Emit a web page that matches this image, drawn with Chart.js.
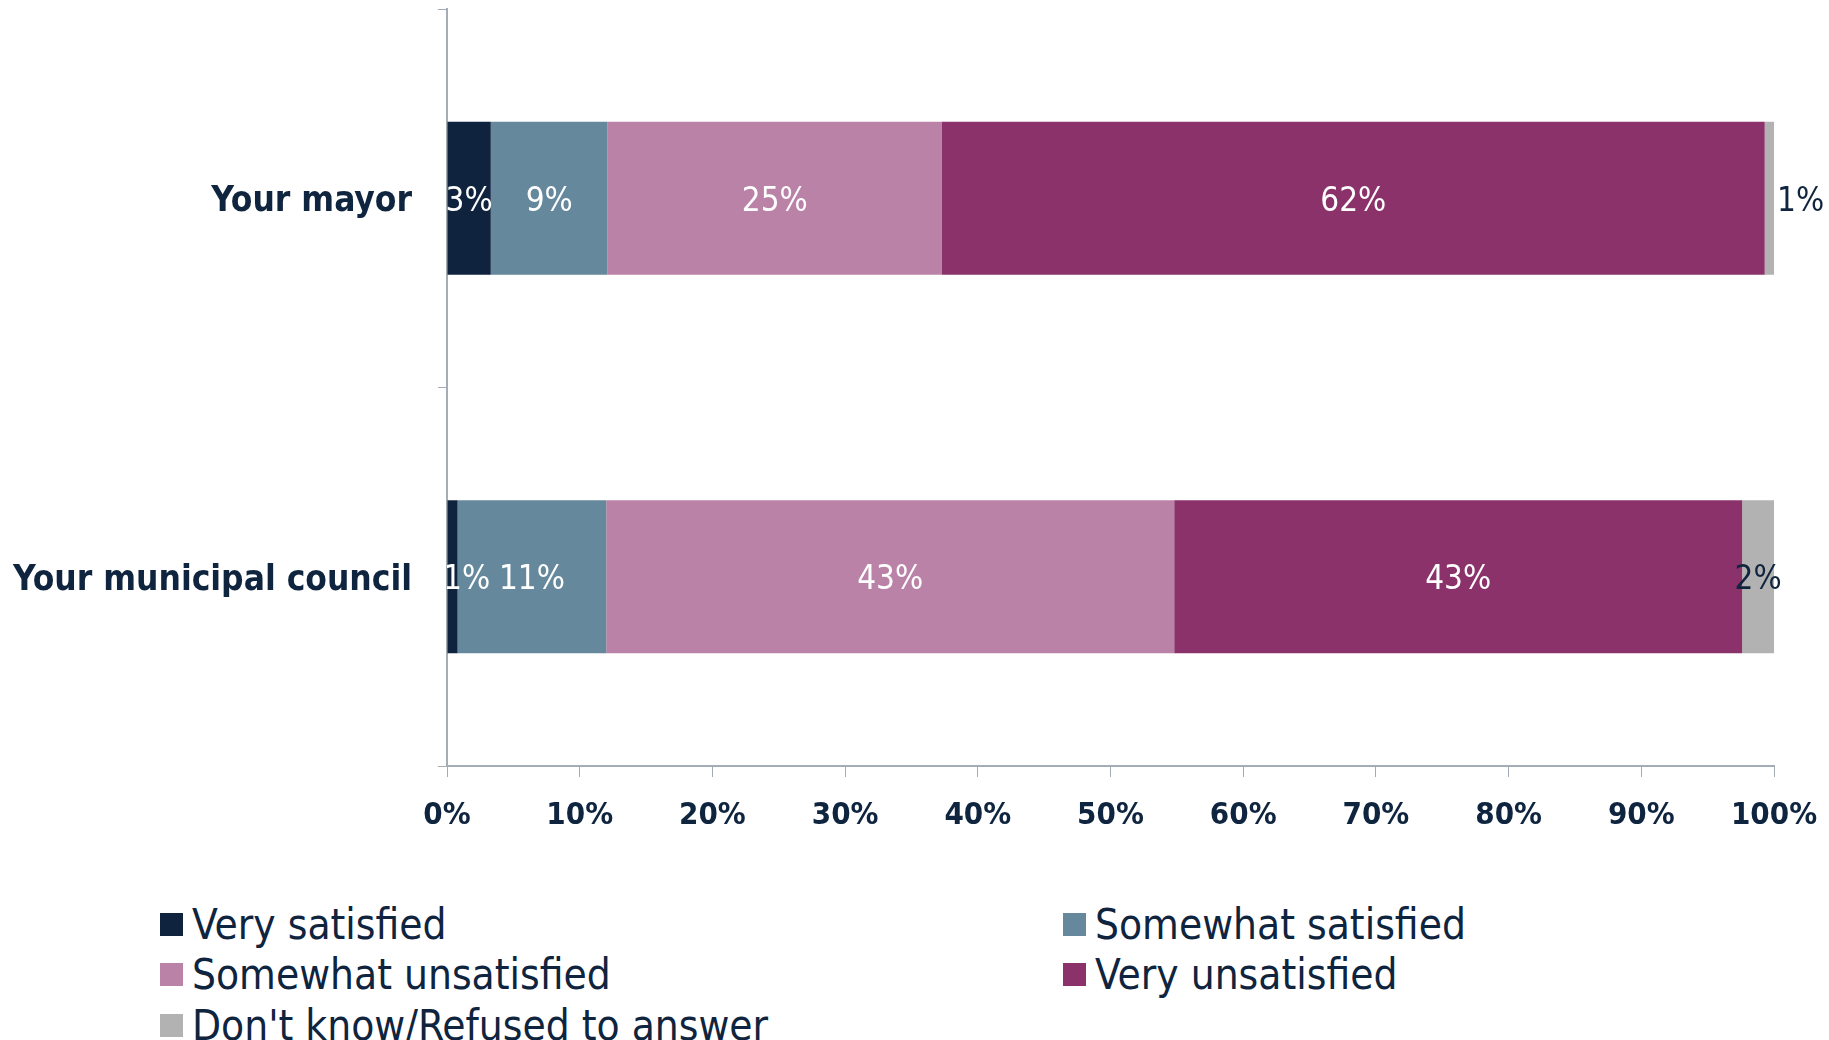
<!DOCTYPE html>
<html lang="en">
<head>
  <meta charset="UTF-8">
  <title>Satisfaction with local government</title>
  <script src="https://cdn.jsdelivr.net/npm/chart.js"></script>
  <style>
    html, body { margin: 0; padding: 0; background: #fff; overflow: hidden; }
    #wrap { position: relative; width: 1829px; height: 1040px; }
    #chartBox { position: absolute; left: 0; top: 0; width: 1829px; height: 880px; }
    .legend-item {
      position: absolute;
      display: flex;
      align-items: center;
      height: 46px;
      font-family: 'DejaVu Sans Condensed', 'DejaVu Sans', sans-serif;
      font-size: 42px;
      color: #0f243e;
      white-space: nowrap;
    }
    .legend-box { width: 23px; height: 23px; margin-right: 9px; }
  </style>
</head>
<body>
  <div id="wrap">
    <div id="chartBox"><canvas id="satChart"></canvas></div>
    <div id="legend"></div>
  </div>

  <script>
    // data (percent of respondents)
    var categories = ['Your mayor', 'Your municipal council'];
    var seriesNames = ['Very satisfied', 'Somewhat satisfied', 'Somewhat unsatisfied', 'Very unsatisfied', "Don't know/Refused to answer"];
    var verySatisfied = [3.3, 0.8];
    var somewhatSatisfied = [8.8, 11.2];
    var somewhatUnsatisfied = [25.2, 42.8];
    var veryUnsatisfied = [62.0, 42.8];
    var dontKnow = [0.7, 2.4];
    var seriesColors = ['#0f233f', '#66889c', '#bb82a8', '#8b326b', '#b2b2b2'];
    var labelColors = ['#fff', '#fff', '#fff', '#fff', '#0f243e'];

    var navy = '#0f243e';
    var axisGrey = '#a4acb6';
    var tickFont = "'DejaVu Sans Condensed', 'DejaVu Sans', sans-serif";

    var seriesValues = [verySatisfied, somewhatSatisfied, somewhatUnsatisfied, veryUnsatisfied, dontKnow];
    var datasets = seriesValues.map(function(vals, i) {
      return {
        label: seriesNames[i],
        data: vals,
        backgroundColor: seriesColors[i],
        borderWidth: 0,
        categoryPercentage: 1,
        barPercentage: 0.404
      };
    });

    // value labels in the middle of each segment
    var segmentLabels = {
      id: 'segmentLabels',
      afterDatasetsDraw: function(chart) {
        var ctx = chart.ctx;
        var area = chart.chartArea;
        ctx.save();
        ctx.beginPath();
        ctx.rect(area.left, 0, chart.width - area.left, chart.height);
        ctx.clip();
        ctx.font = "33px 'DejaVu Sans Condensed', 'DejaVu Sans', sans-serif";
        ctx.textBaseline = 'middle';
        chart.data.datasets.forEach(function(ds, di) {
          var meta = chart.getDatasetMeta(di);
          meta.data.forEach(function(bar, j) {
            var txt = Math.round(ds.data[j]) + '%';
            var left = Math.min(bar.x, bar.base);
            var w = Math.abs(bar.x - bar.base);
            var tw = ctx.measureText(txt).width;
            var y = bar.y + 4;
            ctx.fillStyle = labelColors[di];
            if (di === seriesValues.length - 1 && w < 20) {
              // too thin: put it just right of the bar
              ctx.textAlign = 'left';
              ctx.fillText(txt, left + w + 3, y);
            } else {
              var cx = Math.max(left + w / 2, area.left + tw / 2 - 4);
              ctx.textAlign = 'center';
              ctx.fillText(txt, cx, y);
            }
          });
        });
        ctx.restore();
      }
    };

    var chart = new Chart(document.getElementById('satChart'), {
      type: 'bar',
      data: { labels: categories, datasets: datasets },
      plugins: [segmentLabels],
      options: {
        indexAxis: 'y',
        responsive: true,
        maintainAspectRatio: false,
        animation: false,
        layout: { padding: { top: 9, right: 55, left: 0, bottom: 0 } },
        plugins: {
          legend: { display: false },
          tooltip: { enabled: false }
        },
        scales: {
          x: {
            stacked: true,
            min: 0,
            max: 100,
            ticks: {
              stepSize: 10,
              padding: 20,
              color: navy,
              font: { family: tickFont, size: 31, weight: 'bold' },
              callback: function(v) { return v + '%'; }
            },
            grid: { drawOnChartArea: false, color: axisGrey, tickLength: 11, offset: false },
            border: { color: axisGrey, width: 2 },
            afterFit: function(scale) {
              scale.height = 114;
              scale.paddingLeft = 0;
              scale.paddingRight = 0;
            }
          },
          y: {
            stacked: true,
            ticks: {
              padding: 26,
              labelOffset: 4,
              color: navy,
              font: { family: tickFont, size: 35, weight: 'bold' }
            },
            grid: { drawOnChartArea: false, color: axisGrey, tickLength: 9, offset: true },
            border: { color: axisGrey, width: 2 },
            afterFit: function(scale) {
              scale.width = 447;
              scale.paddingTop = 0;
              scale.paddingBottom = 0;
            }
          }
        }
      }
    });

    // two-column legend under the chart, built from the chart's datasets
    var legendEl = document.getElementById('legend');
    chart.data.datasets.forEach(function(ds, i) {
      var item = document.createElement('div');
      item.className = 'legend-item';
      item.style.left = (i % 2 === 0 ? 160 : 1063) + 'px';
      item.style.top = (901 + Math.floor(i / 2) * 50.5) + 'px';
      var box = document.createElement('span');
      box.className = 'legend-box';
      box.style.background = ds.backgroundColor;
      var label = document.createElement('span');
      label.textContent = ds.label;
      item.appendChild(box);
      item.appendChild(label);
      legendEl.appendChild(item);
    });
  </script>
</body>
</html>
